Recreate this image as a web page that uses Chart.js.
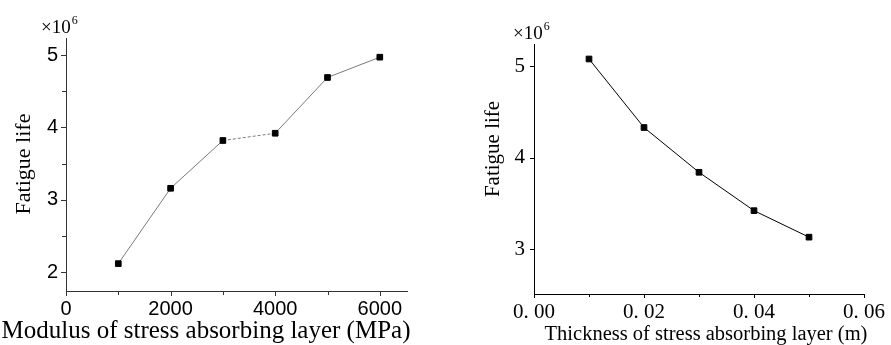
<!DOCTYPE html>
<html>
<head>
<meta charset="utf-8">
<script src="https://cdn.jsdelivr.net/npm/chart.js@4"></script>
<style>
  html, body { margin: 0; padding: 0; background: #fff; }
  #wrap { position: relative; width: 891px; height: 345px; overflow: hidden; }
  #c1 { position: absolute; left: 0; top: 0; }
  #c2 { position: absolute; left: 445px; top: 0; }
</style>
</head>
<body>
<div id="wrap">
  <canvas id="c1" width="445" height="345"></canvas>
  <canvas id="c2" width="446" height="345"></canvas>
</div>
<script>
// left panel - modulus of the stress absorbing layer
const modulus = [1000, 2000, 3000, 4000, 5000, 6000];
const lifeByModulus = [2.12, 3.16, 3.82, 3.92, 4.69, 4.97];
const modulusTicks = [0, 2000, 4000, 6000];
const modulusMinor = [1000, 3000, 5000];
const lifeTicksL = [2, 3, 4, 5];
const lifeMinorL = [2.5, 3.5, 4.5];

// right panel - thickness of the stress absorbing layer
const thickness = [0.01, 0.02, 0.03, 0.04, 0.05];
const lifeByThickness = [5.08, 4.33, 3.84, 3.42, 3.13];
const thicknessTicks = [0, 0.02, 0.04, 0.06];
const thicknessLabels = ['0. 00', '0. 02', '0. 04', '0. 06'];
const thicknessMinor = [0.01, 0.03, 0.05];
const lifeTicksR = [3, 4, 5];

// tick marks, axis titles and the x10^6 note
const decor = {
  id: 'decor',
  afterDraw(chart, args, o) {
    const ctx = chart.ctx, xs = chart.scales.x, ys = chart.scales.y, a = chart.chartArea;
    ctx.save();
    ctx.strokeStyle = o.axisColor;
    ctx.lineWidth = 1;
    ctx.beginPath();
    const xt = (vals, len) => vals.forEach(v => {
      const p = Math.round(xs.getPixelForValue(v)) + 0.5;
      ctx.moveTo(p, a.bottom); ctx.lineTo(p, a.bottom + len);
    });
    const yt = (vals, len) => vals.forEach(v => {
      const p = Math.round(ys.getPixelForValue(v)) + 0.5;
      ctx.moveTo(a.left, p); ctx.lineTo(a.left - len, p);
    });
    xt(o.xMajor, o.major); xt(o.xMinor, o.minor);
    yt(o.yMajor, o.major); yt(o.yMinor, o.minor);
    ctx.stroke();

    ctx.fillStyle = '#000';
    ctx.font = o.titleSize + 'px "Liberation Serif"';
    ctx.textAlign = 'center';
    ctx.textBaseline = 'alphabetic';
    ctx.fillText(o.xTitle, o.xTitleX, o.xTitleY);

    ctx.save();
    ctx.translate(o.yTitleX, o.yTitleY);
    ctx.rotate(-Math.PI / 2);
    ctx.textBaseline = 'middle';
    ctx.font = o.yTitleSize + 'px "Liberation Serif"';
    ctx.fillText('Fatigue life', 0, 0);
    ctx.restore();

    ctx.textAlign = 'left';
    ctx.font = '19px "Liberation Serif"';
    ctx.fillText('\u00d710', o.expX, o.expY);
    const w = ctx.measureText('\u00d710').width;
    ctx.font = '12px "Liberation Serif"';
    ctx.fillText('6', o.expX + w + 1, o.expY - 9);
    ctx.restore();
  }
};

const pts = {
  pointStyle: 'rect',
  pointRadius: 4,
  pointBackgroundColor: '#000',
  pointBorderColor: '#000',
  pointBorderWidth: 1
};

new Chart(document.getElementById('c1'), {
  type: 'line',
  data: {
    datasets: [Object.assign({
      data: modulus.map((x, i) => ({ x: x, y: lifeByModulus[i] })),
      borderColor: '#7a7a7a',
      borderWidth: 1,
      segment: { borderDash: c => c.p0DataIndex === 2 ? [3, 2] : undefined }
    }, pts)]
  },
  options: {
    responsive: false,
    animation: false,
    layout: { padding: { left: 0, right: 38, top: 38, bottom: 0 } },
    plugins: {
      legend: { display: false },
      tooltip: { enabled: false },
      decor: {
        axisColor: '#333', major: 5, minor: 4,
        xMajor: modulusTicks, xMinor: modulusMinor,
        yMajor: lifeTicksL, yMinor: lifeMinorL,
        titleSize: 25, yTitleSize: 22,
        xTitle: 'Modulus of stress absorbing layer (MPa)', xTitleX: 206, xTitleY: 338,
        yTitleX: 24, yTitleY: 164,
        expX: 41, expY: 33
      }
    },
    scales: {
      x: {
        type: 'linear', min: 0, max: 6520,
        afterBuildTicks: s => { s.ticks = modulusTicks.map(v => ({ value: v })); },
        afterFit: s => { s.height = 54; },
        grid: { display: false, drawTicks: false },
        border: { display: true, color: '#333', width: 1 },
        ticks: { padding: 6, color: '#000', maxRotation: 0, font: { family: 'Liberation Sans', size: 20 },
                 callback: v => String(v) }
      },
      y: {
        type: 'linear', min: 1.742, max: 5.235,
        afterBuildTicks: s => { s.ticks = lifeTicksL.map(v => ({ value: v })); },
        afterFit: s => { s.width = 66; },
        grid: { display: false, drawTicks: false },
        border: { display: true, color: '#333', width: 1 },
        ticks: { padding: 8, color: '#000', font: { family: 'Liberation Sans', size: 20 },
                 callback: v => String(v) }
      }
    }
  },
  plugins: [decor]
});

new Chart(document.getElementById('c2'), {
  type: 'line',
  data: {
    datasets: [Object.assign({
      data: thickness.map((x, i) => ({ x: x, y: lifeByThickness[i] })),
      borderColor: '#000',
      borderWidth: 1
    }, pts)]
  },
  options: {
    responsive: false,
    animation: false,
    layout: { padding: { left: 0, right: 21, top: 44, bottom: 0 } },
    plugins: {
      legend: { display: false },
      tooltip: { enabled: false },
      decor: {
        axisColor: '#000', major: 4, minor: 3,
        xMajor: thicknessTicks, xMinor: thicknessMinor,
        yMajor: lifeTicksR, yMinor: [],
        titleSize: 20.5, yTitleSize: 21,
        xTitle: 'Thickness of stress absorbing layer (m)', xTitleX: 261, xTitleY: 340,
        yTitleX: 48, yTitleY: 149,
        expX: 68, expY: 39
      }
    },
    scales: {
      x: {
        type: 'linear', min: 0, max: 0.06,
        afterBuildTicks: s => { s.ticks = thicknessTicks.map(v => ({ value: v })); },
        afterFit: s => { s.height = 51; },
        grid: { display: false, drawTicks: false },
        border: { display: true, color: '#000', width: 1 },
        ticks: { padding: 6, color: '#000', maxRotation: 0, font: { family: 'Liberation Serif', size: 21 },
                 callback: (v, i) => thicknessLabels[i] }
      },
      y: {
        type: 'linear', min: 2.508, max: 5.244,
        afterBuildTicks: s => { s.ticks = lifeTicksR.map(v => ({ value: v })); },
        afterFit: s => { s.width = 89; },
        grid: { display: false, drawTicks: false },
        border: { display: true, color: '#000', width: 1 },
        ticks: { padding: 9, color: '#000', font: { family: 'Liberation Serif', size: 21 },
                 callback: v => String(v) }
      }
    }
  },
  plugins: [decor]
});
</script>
</body>
</html>
